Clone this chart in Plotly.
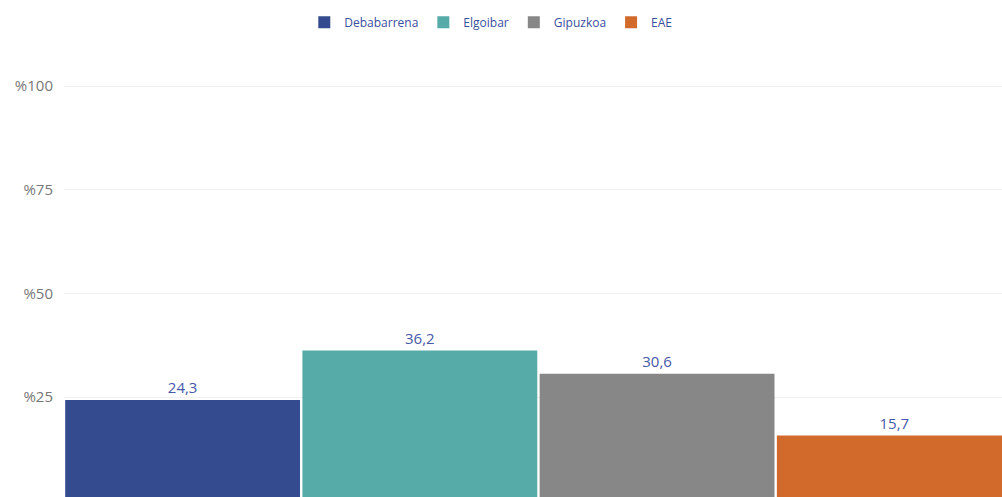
import plotly.graph_objects as go

regions = ['Debabarrena', 'Elgoibar', 'Gipuzkoa', 'EAE']
values = [24.3, 36.2, 30.6, 15.7]
labels = ['24,3', '36,2', '30,6', '15,7']
colors = ['#344B8F', '#56ABA8', '#878787', '#D26A2C']
yticks = [25, 50, 75, 100]

fig = go.Figure()
for i, name in enumerate(regions):
    fig.add_trace(go.Bar(
        x=[i], y=[values[i]], name=name,
        marker=dict(color=colors[i], line=dict(width=0)),
        width=0.99,
        text=[labels[i]], textposition='outside', cliponaxis=False,
        textfont=dict(color='#4658A8', size=15),
    ))

fig.update_layout(
    width=1002, height=497,
    barmode='overlay',
    paper_bgcolor='white', plot_bgcolor='white',
    font=dict(family='Open Sans, Noto Sans, sans-serif'),
    margin=dict(l=64, r=0, t=80, b=0, autoexpand=False),
    showlegend=True,
    legend=dict(orientation='h', x=0.455, xanchor='center', y=0.955, yanchor='middle',
                yref='container', font=dict(size=12, color='#3A4F9E'),
                itemwidth=30, traceorder='normal'),
    xaxis=dict(range=[-0.5, 3.454], showticklabels=False, showgrid=False,
               zeroline=False, showline=False, automargin=False),
    yaxis=dict(range=[0.9, 101.45], tickvals=yticks, ticktext=['%' + str(v) for v in yticks],
               showgrid=True, gridcolor='#F0F0F0', gridwidth=1, zeroline=False,
               tickfont=dict(size=15, color='#777777'), ticklabelstandoff=10,
               automargin=False),
)

# drop the browser's default body margin so the figure fills the window
fig.write_html("out.html", config={'displayModeBar': False},
               post_script="document.body.style.margin='0';document.body.style.overflow='hidden';")
